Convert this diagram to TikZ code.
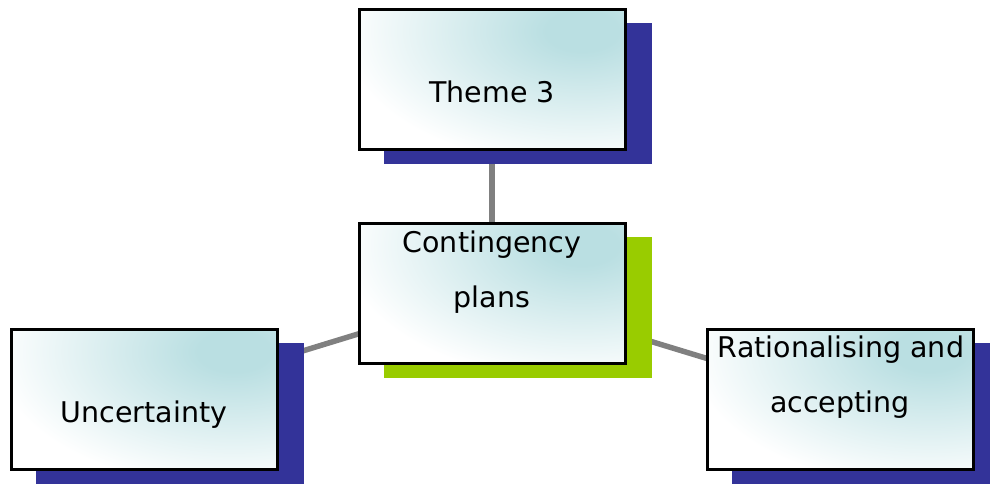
\documentclass[tikz,border=0pt]{standalone}
\usepackage{fontspec}
\setmainfont{DejaVu Sans}
\usetikzlibrary{calc}
\definecolor{glow}{RGB}{186,223,226}
\definecolor{navyshadow}{RGB}{51,51,153}
\definecolor{limeshadow}{RGB}{153,204,0}
\definecolor{linkgray}{RGB}{128,128,128}
\pgfdeclareradialshading{tealglow}{\pgfpoint{0bp}{0bp}}{color(0bp)=(glow);color(3bp)=(glow);color(20bp)=(white);color(50bp)=(white)}
\tikzset{
  box/.style={fill=white, minimum width=266pt, minimum height=140pt, inner sep=0pt, outer sep=0pt},
  shadowbox/.style={fill=#1, minimum width=268pt, minimum height=141pt, inner sep=0pt},
  link/.style={draw=linkgray, line width=5.5pt},
  lbl/.style={anchor=base, inner sep=0pt, font=\fontsize{28.5}{30}\selectfont}
}
% a white box with a teal glow in its upper right corner
\newcommand\glowbox[3]{%
  \node[shadowbox=#3] (#1s) at ($(#2)+(26,14)$) {};
  \node[box] (#1) at (#2) {};
  \begin{scope}
    \clip (#1.south west) rectangle (#1.north east);
    \shade[shading=tealglow] ($(#1.north east)+(-43,22)$) ellipse [x radius=300, y radius=170];
  \end{scope}
  \draw[line width=3pt] (#1.south west) rectangle (#1.north east);
}
\begin{document}
\begin{tikzpicture}[x=1pt,y=-1pt]
\useasboundingbox (0,0) rectangle (990,483);
% box centres
\coordinate (ct) at (492,79);
\coordinate (cc) at (492,293);
\coordinate (cu) at (144,399.5);
\coordinate (cr) at (840,399);
% connectors, drawn centre to centre behind the boxes
\draw[link] (ct) -- (cc);
\draw[link] (cu) -- (cc);
\draw[link] (cr) -- (cc);
% boxes
\glowbox{theme}{ct}{navyshadow}
\glowbox{plans}{cc}{limeshadow}
\glowbox{unc}{cu}{navyshadow}
\glowbox{rat}{cr}{navyshadow}
% labels
\node[lbl] (themeT) at (492,102) {Theme 3};
\node[lbl] (plansT1) at (492,252) {Contingency};
\node[lbl] (plansT2) at (492,307) {plans};
\node[lbl] (uncT) at (144,422) {Uncertainty};
\node[lbl] (ratT1) at (841,357) {Rationalising and};
\node[lbl] (ratT2) at (840,412) {accepting};
\end{tikzpicture}
\end{document}
